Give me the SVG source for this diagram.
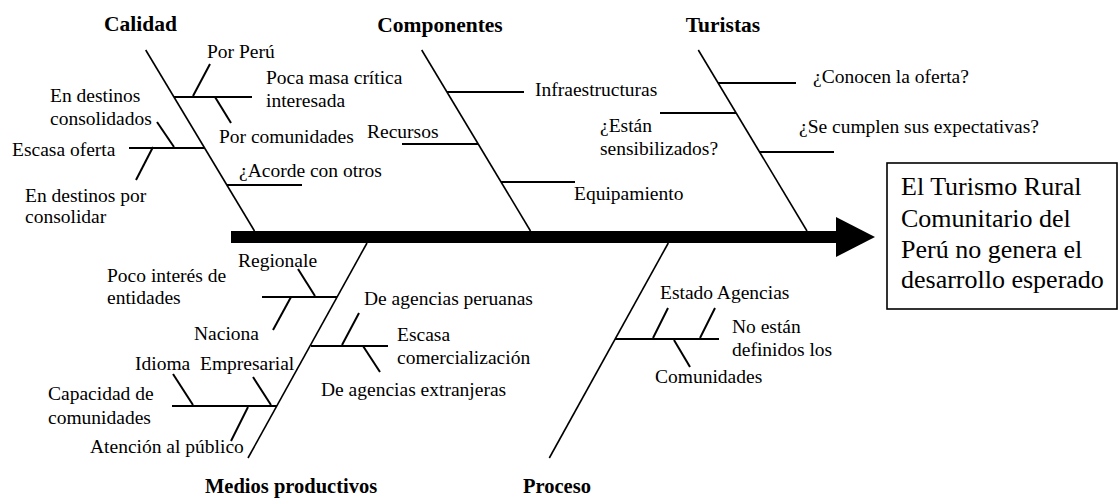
<svg xmlns="http://www.w3.org/2000/svg" width="1119" height="499" viewBox="0 0 1119 499">
<style>
  .t { font-family: "Liberation Serif", "Times New Roman", serif; font-size: 19.5px; fill: #000; }
  .h { font-family: "Liberation Serif", "Times New Roman", serif; font-size: 21.5px; font-weight: bold; fill: #000; }
  .b { font-family: "Liberation Serif", "Times New Roman", serif; font-size: 26px; fill: #000; }
  .sp { stroke: #000; stroke-width: 1.6; fill: none; }
  .br { stroke: #000; stroke-width: 2; fill: none; }
</style>
<rect width="1119" height="499" fill="#fff"/>
<g id="connectors">
  <rect x="231" y="231" width="606" height="12" fill="#000"/>
  <polygon points="836,217 875,237 836,257" fill="#000"/>
</g>
<g id="efecto">
  <rect x="887" y="163" width="230" height="146" fill="#fff" stroke="#000" stroke-width="1.6"/>
  <text class="b" x="901" y="195">El Turismo Rural</text>
  <text class="b" x="901" y="227">Comunitario del</text>
  <text class="b" x="901" y="258">Perú no genera el</text>
  <text class="b" x="901" y="288">desarrollo esperado</text>
</g>
<g id="calidad">
  <line class="sp" x1="145.7" y1="50" x2="254.5" y2="231"/>
  <line class="br" x1="174" y1="97" x2="252" y2="97"/>
  <line class="br" x1="193" y1="96" x2="210" y2="64"/>
  <line class="br" x1="215" y1="97" x2="231" y2="123"/>
  <line class="br" x1="129" y1="148" x2="204" y2="148"/>
  <line class="br" x1="174" y1="147" x2="157" y2="122"/>
  <line class="br" x1="153" y1="147" x2="136" y2="180"/>
  <line class="br" x1="227" y1="185" x2="302" y2="185"/>
  <text class="h" x="140.5" y="31" text-anchor="middle">Calidad</text>
  <text class="t" x="207" y="58">Por Perú</text>
  <text class="t" x="266" y="84">Poca masa crítica</text>
  <text class="t" x="266" y="107">interesada</text>
  <text class="t" x="219" y="143">Por comunidades</text>
  <text class="t" x="50" y="102">En destinos</text>
  <text class="t" x="50" y="125">consolidados</text>
  <text class="t" x="12" y="156">Escasa oferta</text>
  <text class="t" x="25" y="202">En destinos por</text>
  <text class="t" x="25" y="223">consolidar</text>
  <text class="t" x="239" y="177">¿Acorde con otros</text>
</g>
<g id="componentes">
  <line class="sp" x1="421.7" y1="50" x2="530.5" y2="231"/>
  <line class="br" x1="447" y1="92" x2="524" y2="92"/>
  <line class="br" x1="402" y1="144" x2="478" y2="144"/>
  <line class="br" x1="501" y1="182" x2="575" y2="182"/>
  <text class="h" x="440" y="32" text-anchor="middle">Componentes</text>
  <text class="t" x="535" y="96">Infraestructuras</text>
  <text class="t" x="367" y="138">Recursos</text>
  <text class="t" x="574" y="200">Equipamiento</text>
</g>
<g id="turistas">
  <line class="sp" x1="698.3" y1="50" x2="807" y2="231"/>
  <line class="br" x1="718" y1="83" x2="796" y2="83"/>
  <line class="br" x1="660" y1="113" x2="736" y2="113"/>
  <line class="br" x1="759" y1="152" x2="834" y2="152"/>
  <text class="h" x="723" y="32" text-anchor="middle">Turistas</text>
  <text class="t" x="813" y="83">¿Conocen la oferta?</text>
  <text class="t" x="600" y="132">¿Están</text>
  <text class="t" x="600" y="155">sensibilizados?</text>
  <text class="t" x="799" y="133">¿Se cumplen sus expectativas?</text>
</g>
<g id="medios-productivos">
  <line class="sp" x1="367" y1="243" x2="248" y2="458"/>
  <line class="br" x1="262" y1="297" x2="337" y2="297"/>
  <line class="br" x1="298" y1="269" x2="315" y2="296"/>
  <line class="br" x1="291" y1="297" x2="273" y2="330"/>
  <line class="br" x1="311" y1="346" x2="388" y2="346"/>
  <line class="br" x1="342" y1="345" x2="359" y2="313"/>
  <line class="br" x1="363" y1="346" x2="380" y2="372"/>
  <line class="br" x1="172" y1="406" x2="277" y2="406"/>
  <line class="br" x1="173" y1="374" x2="193" y2="405"/>
  <line class="br" x1="253" y1="377" x2="271" y2="405"/>
  <line class="br" x1="248" y1="407" x2="231" y2="441"/>
  <text class="t" x="238" y="267">Regionale</text>
  <text class="t" x="107" y="282">Poco interés de</text>
  <text class="t" x="107" y="304">entidades</text>
  <text class="t" x="194" y="340">Naciona</text>
  <text class="t" x="364" y="305">De agencias peruanas</text>
  <text class="t" x="397" y="341">Escasa</text>
  <text class="t" x="397" y="364">comercialización</text>
  <text class="t" x="321" y="396">De agencias extranjeras</text>
  <text class="t" x="135" y="370">Idioma</text>
  <text class="t" x="200" y="370">Empresarial</text>
  <text class="t" x="48" y="400">Capacidad de</text>
  <text class="t" x="48" y="424">comunidades</text>
  <text class="t" x="90" y="453">Atención al público</text>
  <text class="h" x="205" y="493" style="font-size:20.5px">Medios productivos</text>
</g>
<g id="proceso">
  <line class="sp" x1="668.3" y1="243" x2="549.3" y2="458"/>
  <line class="br" x1="615" y1="339" x2="719" y2="339"/>
  <line class="br" x1="653" y1="338" x2="668" y2="308"/>
  <line class="br" x1="700" y1="338" x2="715" y2="308"/>
  <line class="br" x1="674" y1="340" x2="690" y2="367"/>
  <text class="t" x="660" y="299">Estado Agencias</text>
  <text class="t" x="732" y="333">No están</text>
  <text class="t" x="732" y="356">definidos los</text>
  <text class="t" x="655" y="383">Comunidades</text>
  <text class="h" x="523" y="493" style="font-size:20.5px">Proceso</text>
</g>
</svg>
